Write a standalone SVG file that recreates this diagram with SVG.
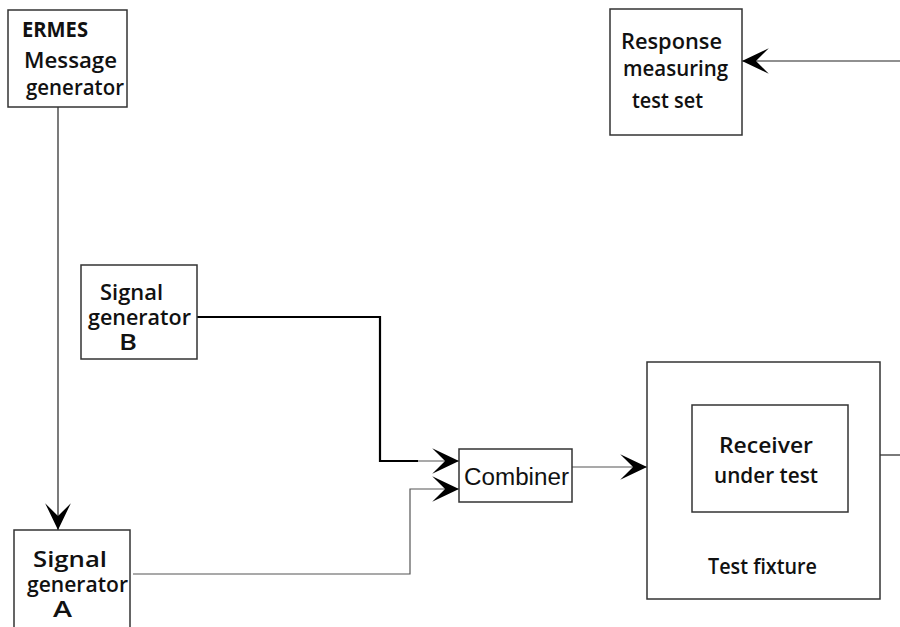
<svg xmlns="http://www.w3.org/2000/svg" width="900" height="627" viewBox="0 0 900 627">
<style>
.box{fill:#fff;stroke:#333;stroke-width:1.5}
.lbl{font-family:"Open Sans","DejaVu Sans",sans-serif;font-size:21px;font-weight:600;fill:#111}
.bold{font-weight:700}
.cmb{font-family:"Liberation Sans",Arial,sans-serif;font-size:23px;fill:#111}
.ln{fill:none;stroke:#222;stroke-width:1.2}
.lg{fill:none;stroke:#555;stroke-width:1.2}
.lb{fill:none;stroke:#000;stroke-width:2.2}
</style>
<defs>
<marker id="ah" markerUnits="userSpaceOnUse" markerWidth="30" markerHeight="30" viewBox="-26 -14 28 28" refX="0" refY="0" orient="auto">
<path d="M0,0 L-25,-12 L-13,0 L-25,12 Z" fill="#000"/>
</marker>
</defs>
<rect width="900" height="627" fill="#fff"/>
<g id="connectors">
<line class="ln" x1="58" y1="107" x2="58" y2="530" marker-end="url(#ah)"/>
<line class="ln" x1="900" y1="61" x2="742" y2="61" marker-end="url(#ah)"/>
<polyline class="lb" points="197,317 380,317 380,461 418,461"/>
<line class="lg" x1="418" y1="461" x2="459" y2="461" marker-end="url(#ah)"/>
<polyline class="lg" points="133,574 410,574 410,489 459,489" marker-end="url(#ah)"/>
<line class="lg" x1="572" y1="467" x2="647" y2="467" marker-end="url(#ah)"/>
<line class="ln" x1="880" y1="455" x2="900" y2="455"/>
</g>
<g id="ermes">
<rect class="box" x="8" y="10" width="119" height="97"/>
<text class="lbl bold" x="22" y="37" textLength="66" lengthAdjust="spacingAndGlyphs">ERMES</text>
<text class="lbl" x="24" y="68" textLength="93" lengthAdjust="spacingAndGlyphs">Message</text>
<text class="lbl" x="26" y="95" textLength="98" lengthAdjust="spacingAndGlyphs">generator</text>
</g>
<g id="response">
<rect class="box" x="610" y="9" width="132" height="126"/>
<text class="lbl" x="621" y="49" textLength="101" lengthAdjust="spacingAndGlyphs">Response</text>
<text class="lbl" x="623" y="76" textLength="105" lengthAdjust="spacingAndGlyphs">measuring</text>
<text class="lbl" x="632" y="108" textLength="71" lengthAdjust="spacingAndGlyphs">test set</text>
</g>
<g id="sigB">
<rect class="box" x="81" y="265" width="116" height="94"/>
<text class="lbl" x="100" y="300" textLength="63" lengthAdjust="spacingAndGlyphs">Signal</text>
<text class="lbl" x="88" y="325" textLength="103" lengthAdjust="spacingAndGlyphs">generator</text>
<text class="lbl" x="119" y="350" textLength="18" lengthAdjust="spacingAndGlyphs">B</text>
</g>
<g id="combiner">
<rect class="box" x="459" y="449" width="113" height="53"/>
<text class="cmb" x="464" y="485" textLength="105" lengthAdjust="spacingAndGlyphs">Combiner</text>
</g>
<g id="fixture">
<rect class="box" x="647" y="362" width="233" height="237"/>
<text class="lbl" x="708" y="574" textLength="109" lengthAdjust="spacingAndGlyphs">Test fixture</text>
</g>
<g id="receiver">
<rect class="box" x="692" y="405" width="156" height="107"/>
<text class="lbl" x="719" y="453" textLength="94" lengthAdjust="spacingAndGlyphs">Receiver</text>
<text class="lbl" x="714" y="483" textLength="104" lengthAdjust="spacingAndGlyphs">under test</text>
</g>
<g id="sigA">
<rect class="box" x="14" y="530" width="116" height="110"/>
<text class="lbl" x="33" y="567" textLength="74" lengthAdjust="spacingAndGlyphs">Signal</text>
<text class="lbl" x="27" y="592" textLength="101" lengthAdjust="spacingAndGlyphs">generator</text>
<text class="lbl" x="53" y="617" textLength="19" lengthAdjust="spacingAndGlyphs">A</text>
</g>
</svg>
